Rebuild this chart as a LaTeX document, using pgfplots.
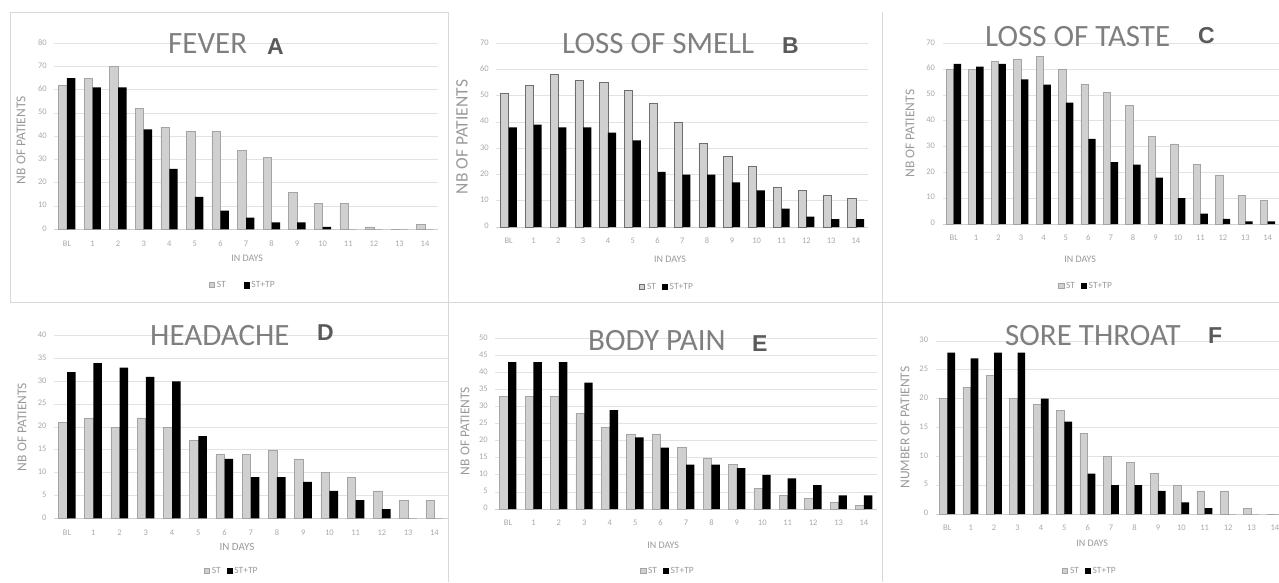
\documentclass[border=0pt]{standalone}
\usepackage{pgfplots}
\pgfplotsset{compat=1.18}
\usepackage{pgfplotstable}
\usepackage{fontspec}
\setmainfont{Carlito}
\newfontfamily\letterfont{Liberation Sans}
\definecolor{titlegray}{HTML}{7F7F7F}
\definecolor{lettergray}{HTML}{5A5A5A}
\definecolor{tickgray}{HTML}{A8A8A8}
\definecolor{labelgray}{HTML}{9A9A9A}
\definecolor{gridgray}{HTML}{E2E2E2}
\definecolor{axisgray}{HTML}{D0D0D0}
\definecolor{stfill}{HTML}{D0D0D0}
\definecolor{stdraw}{HTML}{A4A4A4}
\definecolor{stdrawdark}{HTML}{6E6E6E}
\definecolor{panelgray}{HTML}{D8D8D8}

\pgfplotstableread{
x st tp
0 62 65
1 65 61
2 70 61
3 52 43
4 44 26
5 42 14
6 42 8
7 34 5
8 31 3
9 16 3
10 11 1
11 11 0
12 1 0
13 0 0
14 2 0
}\fever
\pgfplotstableread{
x st tp
0 51 38
1 54 39
2 58 38
3 56 38
4 55 36
5 52 33
6 47 21
7 40 20
8 32 20
9 27 17
10 23 14
11 15 7
12 14 4
13 12 3
14 11 3
}\smell
\pgfplotstableread{
x st tp
0 60 62
1 60 61
2 63 62
3 64 56
4 65 54
5 60 47
6 54 33
7 51 24
8 46 23
9 34 18
10 31 10
11 23 4
12 19 2
13 11 1
14 9 1
}\taste
\pgfplotstableread{
x st tp
0 21 32
1 22 34
2 20 33
3 22 31
4 20 30
5 17 18
6 14 13
7 14 9
8 15 9
9 13 8
10 10 6
11 9 4
12 6 2
13 4 0
14 4 0
}\headache
\pgfplotstableread{
x st tp
0 33 43
1 33 43
2 33 43
3 28 37
4 24 29
5 22 21
6 22 18
7 18 13
8 15 13
9 13 12
10 6 10
11 4 9
12 3 7
13 2 4
14 1 4
}\bodypain
\pgfplotstableread{
x st tp
0 20 28
1 22 27
2 24 28
3 20 28
4 19 20
5 18 16
6 14 7
7 10 5
8 9 5
9 7 4
10 5 2
11 4 1
12 4 0
13 1 0
14 0 0
}\sorethroat

\pgfplotsset{
  panel/.style={
    scale only axis,
    anchor=south west,
    ybar=0pt,
    bar width=0.33,
    xmin=-0.5, xmax=14.5,
    ymin=0,
    xtick={0,1,2,3,4,5,6,7,8,9,10,11,12,13,14},
    xticklabels={BL,1,2,3,4,5,6,7,8,9,10,11,12,13,14},
    typeset ticklabels with strut,
    ymajorgrids,
    grid style={draw=gridgray, line width=0.8pt},
    axis x line*=bottom, axis y line*=left,
    x axis line style={draw=axisgray, line width=0.8pt, -},
    y axis line style={draw=none},
    major tick length=0pt,
    tick label style={font=\fontsize{8.5}{9}\selectfont, text=tickgray},
    /pgf/number format/assume math mode=true,
    xticklabel style={yshift=-7pt},
    yticklabel style={xshift=-4pt},
    xlabel={IN DAYS},
    ylabel={NB OF PATIENTS},
    xlabel style={font=\fontsize{10}{12}\selectfont, text=labelgray, anchor=center},
    ylabel style={font=\fontsize{13.5}{15}\selectfont, text=labelgray, anchor=center, rotate=0},
    legend columns=2,
    legend style={draw=none, fill=none, anchor=center,
      font=\fontsize{9.5}{11}\selectfont, text=labelgray,
      /tikz/every even column/.append style={column sep=4pt}},
    legend image code/.code={\draw[##1] (0pt,-2.6pt) rectangle (5.2pt,2.6pt);},
  },
  stbar/.style={fill=stfill, draw=stdraw, line width=0.6pt, bar shift=-0.165},
  tpbar/.style={fill=black, draw=none, bar shift=0.165},
}

\begin{document}
\begin{tikzpicture}
\useasboundingbox (0pt,0pt) rectangle (1279pt,-582pt);
% panel frames
\draw[panelgray, line width=0.8pt] (10pt,-12pt) rectangle (448pt,-302pt);
\draw[panelgray, line width=0.8pt] (448pt,-12pt) -- (448pt,-582pt);
\draw[panelgray, line width=0.8pt] (882pt,-12pt) -- (882pt,-582pt);
\draw[panelgray, line width=0.8pt] (448pt,-302pt) -- (1279pt,-302pt);

% A
\begin{axis}[panel, at={(54.2pt,-229.3pt)}, width=383.6pt, height=186pt,
  ymax=80, ytick distance=10,
  xlabel style={at={(axis description cs:0.503,-0.154)}},
  ylabel style={at={(axis description cs:-0.0866,0.48)}},
  legend style={at={(axis description cs:0.492,-0.30)},
    /tikz/every even column/.append style={column sep=16pt}}]
\addplot[stbar] table[x=x,y=st]{\fever};
\addplot[tpbar] table[x=x,y=tp]{\fever};
\legend{ST,ST+TP}
\end{axis}

% B
\begin{axis}[panel, at={(496.3pt,-227pt)}, width=372pt, height=183.7pt,
  ymax=70, ytick distance=10,
  xlabel style={at={(axis description cs:0.467,-0.174)}},
  ylabel style={at={(axis description cs:-0.0922,0.49)}, font=\fontsize{17.5}{19}\selectfont},
  legend style={at={(axis description cs:0.459,-0.327)}}]
\addplot[stbar, draw=stdrawdark, line width=0.8pt] table[x=x,y=st]{\smell};
\addplot[tpbar] table[x=x,y=tp]{\smell};
\legend{ST,ST+TP}
\end{axis}

% C
\begin{axis}[panel, at={(942.5pt,-224pt)}, width=336.4pt, height=180.7pt,
  ymax=70, ytick distance=10,
  xlabel style={at={(axis description cs:0.409,-0.194)}},
  ylabel style={at={(axis description cs:-0.0966,0.5)}},
  legend style={at={(axis description cs:0.427,-0.343)}}]
\addplot[stbar] table[x=x,y=st]{\taste};
\addplot[tpbar] table[x=x,y=tp]{\taste};
\legend{ST,ST+TP}
\end{axis}

% D
\begin{axis}[panel, at={(53.9pt,-518.3pt)}, width=393.7pt, height=182.6pt,
  ymax=40, ytick distance=5,
  xlabel style={at={(axis description cs:0.465,-0.157)}, font=\fontsize{11}{13}\selectfont},
  ylabel style={at={(axis description cs:-0.081,0.5)}},
  legend style={at={(axis description cs:0.452,-0.289)}}]
\addplot[stbar] table[x=x,y=st]{\headache};
\addplot[tpbar] table[x=x,y=tp]{\headache};
\legend{ST,ST+TP}
\end{axis}

% E
\begin{axis}[panel, at={(495.3pt,-509pt)}, width=381.4pt, height=170.7pt,
  ymax=50, ytick distance=5,
  xlabel style={at={(axis description cs:0.44,-0.211)}},
  ylabel style={at={(axis description cs:-0.0794,0.457)}},
  legend style={at={(axis description cs:0.453,-0.363)}}]
\addplot[stbar] table[x=x,y=st]{\bodypain};
\addplot[tpbar] table[x=x,y=tp]{\bodypain};
\legend{ST,ST+TP}
\end{axis}

% F
\begin{axis}[panel, at={(935.6pt,-514pt)}, width=351pt, height=173pt,
  ymax=30, ytick distance=5,
  ylabel={NUMBER OF PATIENTS},
  xlabel style={at={(axis description cs:0.446,-0.168)}},
  ylabel style={at={(axis description cs:-0.0872,0.5)}},
  legend style={at={(axis description cs:0.44,-0.329)}}]
\addplot[stbar] table[x=x,y=st]{\sorethroat};
\addplot[tpbar] table[x=x,y=tp]{\sorethroat};
\legend{ST,ST+TP}
\end{axis}

% titles
\tikzset{ttl/.style={anchor=base west, inner sep=0pt, text=titlegray, font=\fontsize{31}{34}\selectfont},
         ltr/.style={anchor=base west, inner sep=0pt, text=lettergray, font=\letterfont\bfseries\fontsize{23}{26}\selectfont}}
\node[ttl] at (168pt,-53pt) {FEVER};
\node[ltr] at (267pt,-54pt) {A};
\node[ttl] at (562pt,-53.5pt) {LOSS OF SMELL};
\node[ltr] at (782pt,-53pt) {B};
\node[ttl] at (985pt,-46.7pt) {LOSS OF TASTE};
\node[ltr] at (1198pt,-43pt) {C};
\node[ttl] at (150pt,-345pt) {HEADACHE};
\node[ltr] at (317pt,-340pt) {D};
\node[ttl] at (588pt,-350pt) {BODY PAIN};
\node[ltr] at (752pt,-351.5pt) {E};
\node[ttl] at (1005pt,-345pt) {SORE THROAT};
\node[ltr] at (1208pt,-343.5pt) {F};
\end{tikzpicture}
\end{document}
